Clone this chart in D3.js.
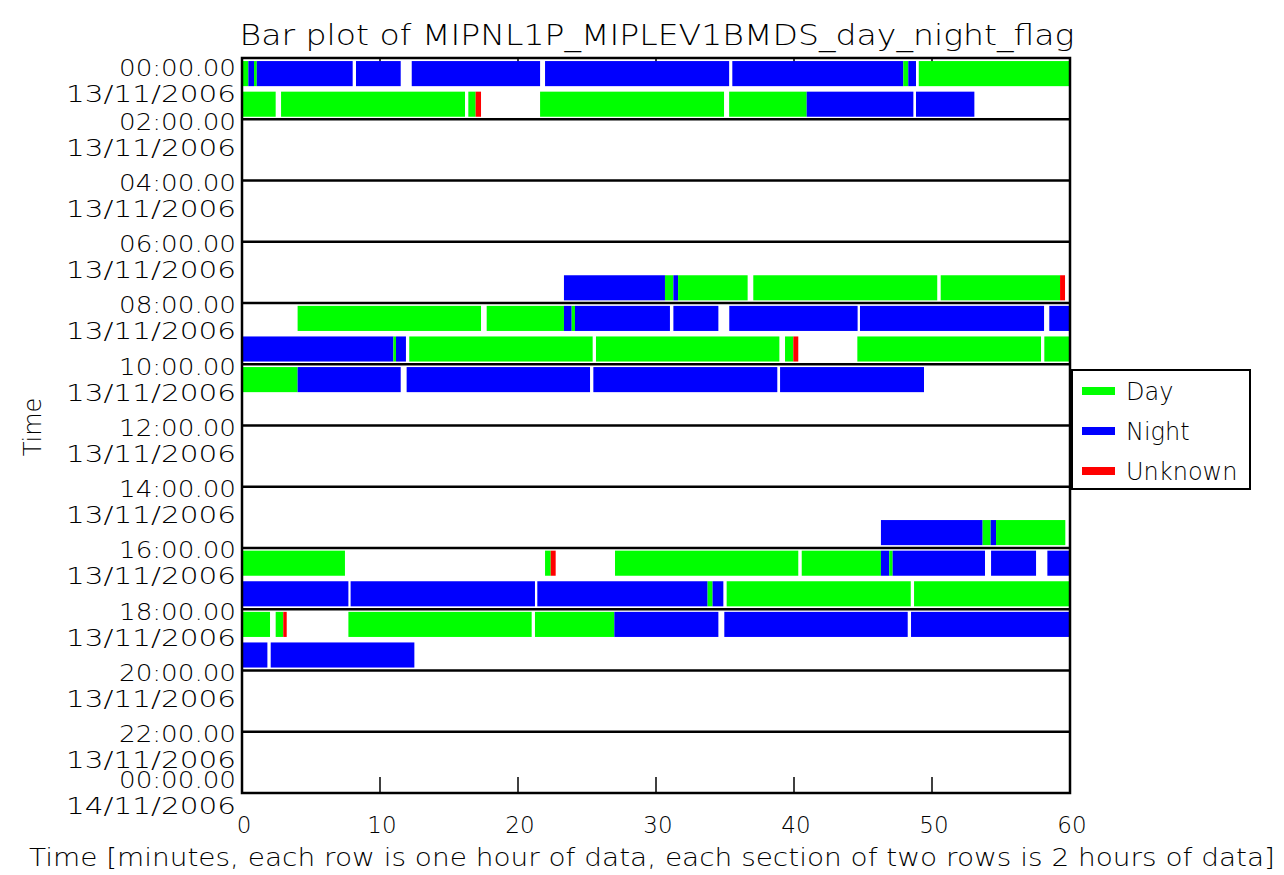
<!DOCTYPE html>
<html lang="en">
<head>
    <meta charset="UTF-8">
    <title>Bar plot of MIPNL1P_MIPLEV1BMDS_day_night_flag</title>
    <script src="https://d3js.org/d3.v7.min.js"></script>
    <style>
        body {
            margin: 0;
            background: white;
        }
        text {
            font-family: "DejaVu Sans", sans-serif;
            font-weight: 200;
            fill: black;
        }
        .frame, .section-line, .tick-line {
            stroke: black;
            stroke-width: 2.5px;
            fill: none;
        }
        .tick-line {
            stroke-width: 1.5px;
        }
    </style>
</head>
<body>
    <div id="chart"></div>

    <script>
        // flag categories
        const flagNames = ["Day", "Night", "Unknown"];
        const flagColors = ["#00ff00", "#0000ff", "#ff0000"];

        // segments per hour row: [start minute, end minute, flag]
        const hour00 = [[0, 0.46, "Day"], [0.46, 0.87, "Night"], [0.87, 1.07, "Day"], [1.07, 8.02, "Night"],
                        [8.26, 11.5, "Night"], [12.3, 21.6, "Night"], [21.96, 35.3, "Night"], [35.53, 47.92, "Night"],
                        [47.92, 48.28, "Day"], [48.28, 48.84, "Night"], [49.04, 60, "Day"]];
        const hour01 = [[0, 2.44, "Day"], [2.83, 16.16, "Day"], [16.4, 16.93, "Day"], [16.93, 17.32, "Unknown"],
                        [21.6, 34.93, "Day"], [35.3, 40.92, "Day"], [40.92, 48.65, "Night"], [48.84, 53.07, "Night"]];
        const hour07 = [[23.33, 30.65, "Night"], [30.65, 31.26, "Day"], [31.26, 31.6, "Night"], [31.6, 36.64, "Day"],
                        [37.05, 50.38, "Day"], [50.63, 59.28, "Day"], [59.28, 59.64, "Unknown"]];
        const hour08 = [[4.03, 17.32, "Day"], [17.73, 23.33, "Day"], [23.33, 23.89, "Night"], [23.89, 24.13, "Day"],
                        [24.13, 31.01, "Night"], [31.26, 34.52, "Night"], [35.31, 44.61, "Night"], [44.78, 58.12, "Night"],
                        [58.5, 60, "Night"]];
        const hour09 = [[0, 10.97, "Night"], [10.97, 11.16, "Day"], [11.16, 11.88, "Night"], [12.12, 25.41, "Day"],
                        [25.65, 38.94, "Day"], [39.35, 39.95, "Day"], [39.95, 40.31, "Unknown"], [44.59, 57.9, "Day"],
                        [58.14, 60, "Day"]];
        const hour10 = [[0, 4.03, "Day"], [4.03, 11.5, "Night"], [11.93, 25.22, "Night"], [25.46, 38.79, "Night"],
                        [38.99, 49.42, "Night"]];
        const hour15 = [[46.3, 53.67, "Night"], [53.67, 54.25, "Day"], [54.25, 54.64, "Night"], [54.64, 59.66, "Day"]];
        const hour16 = [[0, 7.46, "Day"], [21.96, 22.37, "Day"], [22.37, 22.73, "Unknown"], [27.03, 40.31, "Day"],
                        [40.56, 46.3, "Day"], [46.3, 46.9, "Night"], [46.9, 47.15, "Day"], [47.15, 53.84, "Night"],
                        [54.28, 57.54, "Night"], [58.36, 60, "Night"]];
        const hour17 = [[0, 7.71, "Night"], [7.87, 21.23, "Night"], [21.4, 33.74, "Night"], [33.74, 34.1, "Day"],
                        [34.1, 34.88, "Night"], [35.12, 48.46, "Day"], [48.7, 60, "Day"]];
        const hour18 = [[0, 2.03, "Day"], [2.44, 2.99, "Day"], [2.99, 3.24, "Unknown"], [7.71, 20.99, "Day"],
                        [21.23, 26.98, "Day"], [26.98, 34.52, "Night"], [34.95, 48.24, "Night"], [48.48, 60, "Night"]];
        const hour19 = [[0, 1.84, "Night"], [2.08, 12.49, "Night"]];

        // y tick labels (every 2 hours)
        const tickHours = [0, 2, 4, 6, 8, 10, 12, 14, 16, 18, 20, 22, 24];
        const tickTimes = ["00:00.00", "02:00.00", "04:00.00", "06:00.00", "08:00.00", "10:00.00", "12:00.00",
                           "14:00.00", "16:00.00", "18:00.00", "20:00.00", "22:00.00", "00:00.00"];
        const tickDates = ["13/11/2006", "13/11/2006", "13/11/2006", "13/11/2006", "13/11/2006", "13/11/2006",
                           "13/11/2006", "13/11/2006", "13/11/2006", "13/11/2006", "13/11/2006", "13/11/2006",
                           "14/11/2006"];
        const xTicks = [0, 10, 20, 30, 40, 50, 60];

        const rows = [
            { hour: 0, segs: hour00 }, { hour: 1, segs: hour01 }, { hour: 7, segs: hour07 },
            { hour: 8, segs: hour08 }, { hour: 9, segs: hour09 }, { hour: 10, segs: hour10 },
            { hour: 15, segs: hour15 }, { hour: 16, segs: hour16 }, { hour: 17, segs: hour17 },
            { hour: 18, segs: hour18 }, { hour: 19, segs: hour19 }
        ];
        const segments = rows.flatMap(r => r.segs.map(s => ({ hour: r.hour, start: s[0], end: s[1], flag: s[2] })));

        const width = 1284, height = 875;
        const plot = { left: 242, right: 1070, top: 58, bottom: 793 };

        const svg = d3.select("#chart")
            .append("svg")
            .attr("width", width)
            .attr("height", height);

        const x = d3.scaleLinear().domain([0, 60]).range([plot.left, plot.right]);
        const yHour = d3.scaleLinear().domain([0, 24]).range([plot.top, plot.bottom]);
        const yRow = d3.scaleBand()
            .domain(d3.range(24))
            .range([plot.top, plot.bottom])
            .paddingInner(0.18)
            .paddingOuter(0.1);
        const color = d3.scaleOrdinal().domain(flagNames).range(flagColors);

        // title
        svg.append("text")
            .attr("x", (plot.left + plot.right) / 2 + 1)
            .attr("y", 45)
            .attr("text-anchor", "middle")
            .attr("font-size", 28)
            .attr("textLength", 835)
            .attr("lengthAdjust", "spacingAndGlyphs")
            .text("Bar plot of MIPNL1P_MIPLEV1BMDS_day_night_flag");

        // x ticks top and bottom (inside)
        const inner = xTicks.slice(1, -1);
        svg.selectAll(".tick-top")
            .data(inner)
            .enter()
            .append("line")
            .attr("class", "tick-line")
            .attr("x1", d => x(d)).attr("x2", d => x(d))
            .attr("y1", plot.top).attr("y2", plot.top + 16);
        svg.selectAll(".tick-bottom")
            .data(inner)
            .enter()
            .append("line")
            .attr("class", "tick-line")
            .attr("x1", d => x(d)).attr("x2", d => x(d))
            .attr("y1", plot.bottom).attr("y2", plot.bottom - 16);

        // bars
        svg.selectAll("rect.seg")
            .data(segments)
            .enter()
            .append("rect")
            .attr("class", "seg")
            .attr("x", d => x(d.start))
            .attr("width", d => x(d.end) - x(d.start))
            .attr("y", d => yRow(d.hour))
            .attr("height", yRow.bandwidth())
            .attr("fill", d => color(d.flag));

        // section lines
        svg.selectAll(".section-line")
            .data(tickHours.slice(1, -1))
            .enter()
            .append("line")
            .attr("class", "section-line")
            .attr("x1", plot.left).attr("x2", plot.right)
            .attr("y1", d => yHour(d)).attr("y2", d => yHour(d));

        // frame
        svg.append("rect")
            .attr("class", "frame")
            .attr("x", plot.left).attr("y", plot.top)
            .attr("width", plot.right - plot.left).attr("height", plot.bottom - plot.top);

        // y tick labels
        const labelY = d => Math.min(Math.max(yHour(d) + 2, plot.top + 10), plot.bottom - 13);
        svg.selectAll(".ytime")
            .data(tickHours)
            .enter()
            .append("text")
            .attr("x", 236)
            .attr("y", d => labelY(d))
            .attr("dy", "0.36em")
            .attr("text-anchor", "end")
            .attr("font-size", 23)
            .attr("textLength", 117)
            .attr("lengthAdjust", "spacingAndGlyphs")
            .text((d, i) => tickTimes[i]);
        svg.selectAll(".ydate")
            .data(tickHours)
            .enter()
            .append("text")
            .attr("x", 236)
            .attr("y", d => labelY(d) + 26)
            .attr("dy", "0.36em")
            .attr("text-anchor", "end")
            .attr("font-size", 23)
            .attr("textLength", 170)
            .attr("lengthAdjust", "spacingAndGlyphs")
            .text((d, i) => tickDates[i]);

        // x tick labels
        svg.selectAll(".xlabel")
            .data(xTicks)
            .enter()
            .append("text")
            .attr("x", d => x(d) + 2)
            .attr("y", 825)
            .attr("dy", "0.36em")
            .attr("text-anchor", "middle")
            .attr("font-size", 23)
            .text(d => d);

        // axis titles
        svg.append("text")
            .attr("x", 652)
            .attr("y", 857)
            .attr("dy", "0.36em")
            .attr("text-anchor", "middle")
            .attr("font-size", 24)
            .attr("textLength", 1246)
            .attr("lengthAdjust", "spacingAndGlyphs")
            .text("Time [minutes, each row is one hour of data, each section of two rows is 2 hours of data]");

        svg.append("text")
            .attr("transform", "translate(32, 427) rotate(-90)")
            .attr("dy", "0.36em")
            .attr("text-anchor", "middle")
            .attr("font-size", 24)
            .text("Time");

        // legend
        const legend = svg.append("g").attr("transform", "translate(1072, 370)");
        legend.append("rect")
            .attr("width", 178)
            .attr("height", 119)
            .attr("fill", "white")
            .attr("stroke", "black")
            .attr("stroke-width", 2);
        const items = legend.selectAll(".item")
            .data(flagNames)
            .enter()
            .append("g")
            .attr("transform", (d, i) => `translate(0, ${21 + i * 40})`);
        items.append("rect")
            .attr("x", 10)
            .attr("y", -4)
            .attr("width", 33)
            .attr("height", 8)
            .attr("fill", d => color(d));
        items.append("text")
            .attr("x", 54)
            .attr("dy", "0.36em")
            .attr("font-size", 24)
            .text(d => d);
    </script>
</body>
</html>
